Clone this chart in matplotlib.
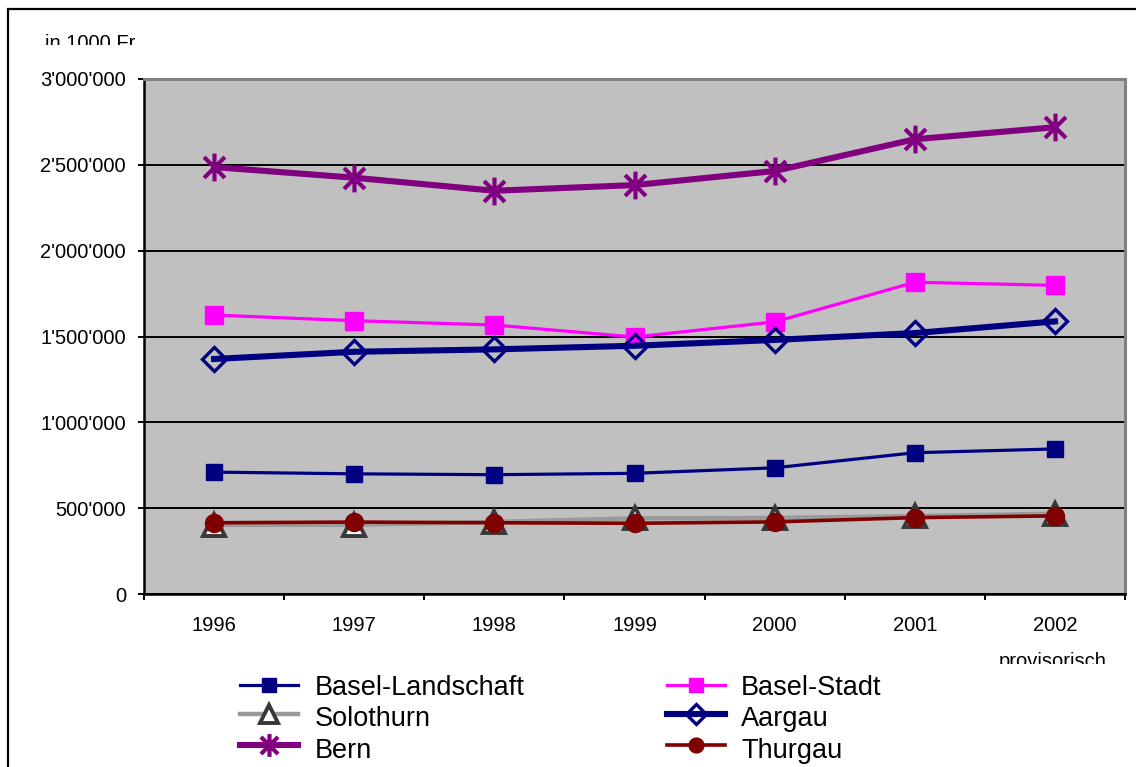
import matplotlib
matplotlib.use("Agg")
import matplotlib.pyplot as plt
from matplotlib.lines import Line2D
from matplotlib.patches import Rectangle
from matplotlib.path import Path
from matplotlib.ticker import FixedLocator, FuncFormatter, NullFormatter

plt.rcParams['font.family'] = ['Liberation Sans', 'DejaVu Sans']

# Data (in 1000 Fr)
years = ['1996', '1997', '1998', '1999', '2000', '2001', '2002']
basel_landschaft = [710000, 700000, 695000, 703000, 735000, 823000, 845000]
basel_stadt = [1625000, 1592000, 1567000, 1497000, 1585000, 1816000, 1798000]
solothurn = [403000, 403000, 420000, 441000, 443000, 454000, 468000]
aargau = [1369000, 1411000, 1425000, 1446000, 1480000, 1520000, 1588000]
bern = [2487000, 2425000, 2349000, 2382000, 2464000, 2649000, 2719000]
thurgau = [415000, 419000, 415000, 412000, 420000, 445000, 455000]

W, H = 1136, 767
fig = plt.figure(figsize=(W / 100, H / 100), dpi=100)
fig.patch.set_facecolor('white')

def fx(px):
    return px / W

def fy(py):
    return 1 - py / H

# Outer chart frame (only left and top edges lie inside the canvas)
fig.add_artist(Rectangle((fx(8), -0.1), 1.2, fy(9) + 0.1, transform=fig.transFigure,
                         fill=False, edgecolor='black', linewidth=1.6))

ax = fig.add_axes([fx(144), fy(594), fx(1125) - fx(144), fy(79) - fy(594)])
ax.set_facecolor('#C0C0C0')

# Asterisk marker: vertical bar plus an X
ast = Path([(0, -1), (0, 1), (-0.75, -0.75), (0.75, 0.75), (-0.75, 0.75), (0.75, -0.75)],
           [Path.MOVETO, Path.LINETO, Path.MOVETO, Path.LINETO, Path.MOVETO, Path.LINETO])

series = [
    ('Basel-Landschaft', basel_landschaft,
     dict(color='#000080', lw=2.3, marker='s', ms=11.5, mfc='#000080', mec='#000080', mew=1)),
    ('Basel-Stadt', basel_stadt,
     dict(color='#FF00FF', lw=2.3, marker='s', ms=12.5, mfc='#FF00FF', mec='#FF00FF', mew=1)),
    ('Solothurn', solothurn,
     dict(color='#9A9A9A', lw=3.2, marker='^', ms=16.5, mfc='white', mec='#383838', mew=2.8)),
    ('Aargau', aargau,
     dict(color='#000080', lw=4.4, marker='D', ms=12.5, mfc='none', mec='#000080', mew=2.4)),
    ('Bern', bern,
     dict(color='#800080', lw=4.4, marker=ast, ms=20, mfc='#800080', mec='#800080', mew=3)),
    ('Thurgau', thurgau,
     dict(color='#800000', lw=2.6, marker='o', ms=13, mfc='#800000', mec='#800000', mew=1)),
]

x = list(range(len(years)))
for i, (name, vals, st) in enumerate(series):
    ax.plot(x, vals, zorder=3 + i, solid_joinstyle='round', **st)

ax.set_xlim(-0.5, len(years) - 0.5)
ax.set_ylim(0, 3000000)

# Y axis
ax.yaxis.set_major_locator(FixedLocator([0, 500000, 1000000, 1500000, 2000000, 2500000, 3000000]))
ax.yaxis.set_major_formatter(FuncFormatter(lambda v, p: f"{int(v):,}".replace(',', "'")))
ax.grid(axis='y', color='black', linewidth=1.4, zorder=1)
ax.set_axisbelow(True)
ax.tick_params(axis='y', direction='out', length=4.5, width=1.4, pad=8.5,
               labelsize=14.5, colors='black')

# X axis: tick marks between categories, labels centred on categories
ax.xaxis.set_major_locator(FixedLocator([i - 0.5 for i in range(len(years) + 1)]))
ax.xaxis.set_major_formatter(NullFormatter())
ax.set_xticks(x, minor=True)
ax.set_xticklabels(years, minor=True)
ax.tick_params(axis='x', which='major', direction='out', length=4.5, width=1.4)
ax.tick_params(axis='x', which='minor', length=0, pad=16, labelsize=14.5)

for side in ('left', 'bottom'):
    ax.spines[side].set_color('black')
    ax.spines[side].set_linewidth(1.8)
for side in ('top', 'right'):
    ax.spines[side].set_color('#808080')
    ax.spines[side].set_linewidth(2.2)

# Unit caption and footnote (clipped by their text boxes)
unit = fig.text(fx(45), fy(34), 'in 1000 Fr', fontsize=14.5, va='top', ha='left')
unit.set_clip_path(Rectangle((0, fy(45)), 1, 1, transform=fig.transFigure))
note = fig.text(fx(1053), fy(652), 'provisorisch', fontsize=14.5, va='top', ha='center')
note.set_clip_path(Rectangle((0, fy(664)), 1, 1 - fy(664), transform=fig.transFigure))

# Legend, two columns
col_handle = [240, 667]
col_text = [315, 741]
row_line = [685, 714, 745]
row_base = [695, 726, 758]
hl = 58
for i, (name, vals, st) in enumerate(series):
    c, r = i % 2, i // 2
    x0 = col_handle[c]
    yl = row_line[r]
    fig.add_artist(Line2D([fx(x0), fx(x0 + hl)], [fy(yl), fy(yl)], transform=fig.transFigure,
                          color=st['color'], lw=st['lw']))
    fig.add_artist(Line2D([fx(x0 + hl / 2)], [fy(yl)], transform=fig.transFigure,
                          linestyle='none', marker=st['marker'], ms=st['ms'] * 0.82,
                          mfc=st['mfc'], mec=st['mec'], mew=st['mew']))
    fig.text(fx(col_text[c]), fy(row_base[r]), name, fontsize=19.5, va='baseline', ha='left')

fig.savefig('out.png', dpi=100)
